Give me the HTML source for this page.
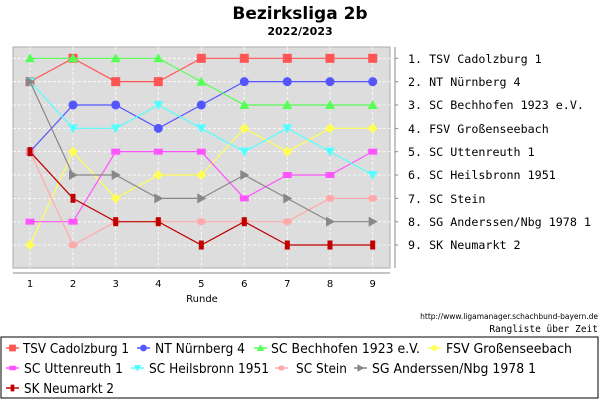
<!DOCTYPE html>
<html><head><meta charset="utf-8"><style>body{margin:0;background:#fff}svg{display:block}</style></head><body>
<svg width="600" height="400" xmlns="http://www.w3.org/2000/svg" font-family="'DejaVu Sans', sans-serif">
<text x="300" y="19" text-anchor="middle" font-size="17" font-weight="bold">Bezirksliga 2b</text>
<text x="300" y="35" text-anchor="middle" font-size="11" font-weight="bold">2022/2023</text>
<rect x="13" y="47" width="377" height="221" fill="#dddddd" stroke="#aaa"/>
<g stroke="#fff" stroke-dasharray="3,2" stroke-width="0.8">
<line x1="30" y1="47" x2="30" y2="268"/><line x1="73" y1="47" x2="73" y2="268"/><line x1="115.7" y1="47" x2="115.7" y2="268"/><line x1="158.3" y1="47" x2="158.3" y2="268"/><line x1="201.3" y1="47" x2="201.3" y2="268"/><line x1="244.3" y1="47" x2="244.3" y2="268"/><line x1="287.3" y1="47" x2="287.3" y2="268"/><line x1="330" y1="47" x2="330" y2="268"/><line x1="372.7" y1="47" x2="372.7" y2="268"/>
<line x1="13" y1="58.3" x2="390" y2="58.3"/><line x1="13" y1="81.7" x2="390" y2="81.7"/><line x1="13" y1="105" x2="390" y2="105"/><line x1="13" y1="128.4" x2="390" y2="128.4"/><line x1="13" y1="151.7" x2="390" y2="151.7"/><line x1="13" y1="175" x2="390" y2="175"/><line x1="13" y1="198.4" x2="390" y2="198.4"/><line x1="13" y1="221.8" x2="390" y2="221.8"/><line x1="13" y1="245" x2="390" y2="245"/>
</g>
<line x1="13" y1="273" x2="390" y2="273" stroke="#888"/>
<line x1="395" y1="47" x2="395" y2="268" stroke="#888"/>
<g stroke="#888"><line x1="395" y1="58.3" x2="398" y2="58.3"/><line x1="395" y1="81.7" x2="398" y2="81.7"/><line x1="395" y1="105" x2="398" y2="105"/><line x1="395" y1="128.4" x2="398" y2="128.4"/><line x1="395" y1="151.7" x2="398" y2="151.7"/><line x1="395" y1="175" x2="398" y2="175"/><line x1="395" y1="198.4" x2="398" y2="198.4"/><line x1="395" y1="221.8" x2="398" y2="221.8"/><line x1="395" y1="245" x2="398" y2="245"/></g>
<g font-size="10" text-anchor="middle"><text x="30" y="287">1</text><text x="73" y="287">2</text><text x="115.7" y="287">3</text><text x="158.3" y="287">4</text><text x="201.3" y="287">5</text><text x="244.3" y="287">6</text><text x="287.3" y="287">7</text><text x="330" y="287">8</text><text x="372.7" y="287">9</text>
<text x="202" y="302">Runde</text></g>
<g font-family="'DejaVu Sans Mono', monospace" font-size="11.7">
<text x="408" y="63">1. TSV Cadolzburg 1</text><text x="408" y="86">2. NT Nürnberg 4</text><text x="408" y="109">3. SC Bechhofen 1923 e.V.</text><text x="408" y="133">4. FSV Großenseebach</text><text x="408" y="156">5. SC Uttenreuth 1</text><text x="408" y="179">6. SC Heilsbronn 1951</text><text x="408" y="203">7. SC Stein</text><text x="408" y="226">8. SG Anderssen/Nbg 1978 1</text><text x="408" y="249">9. SK Neumarkt 2</text>
</g>
<text x="598" y="319" text-anchor="end" font-size="7.5">http://www.ligamanager.schachbund-bayern.de</text>
<text x="598" y="332" text-anchor="end" font-size="9.5" font-family="'DejaVu Sans Mono', monospace">Rangliste über Zeit</text>
<g id="plot" fill="none" stroke-width="1.2"></g>
<rect x="1" y="337" width="597" height="61" fill="none" stroke="#000"/>
<g id="leg" font-size="13"></g>
</svg>
<script>
const X=[30,73,115.7,158.3,201.3,244.3,287.3,330,372.7];
const Y=r=>58.3+(r-1)*23.34;
const S=[
["TSV Cadolzburg 1","#ff5555","sq",[2,1,2,2,1,1,1,1,1]],
["NT Nürnberg 4","#5555ff","ci",[5,3,3,4,3,2,2,2,2]],
["SC Bechhofen 1923 e.V.","#55ff55","tu",[1,1,1,1,2,3,3,3,3]],
["FSV Großenseebach","#ffff55","di",[9,5,7,6,6,4,5,4,4]],
["SC Uttenreuth 1","#ff55ff","rw",[8,8,5,5,5,7,6,6,5]],
["SC Heilsbronn 1951","#55ffff","td",[2,4,4,3,4,5,4,5,6]],
["SC Stein","#ffaaaa","el",[5,9,8,8,8,8,8,7,7]],
["SG Anderssen/Nbg 1978 1","#888888","tr",[2,6,6,7,7,6,7,8,8]],
["SK Neumarkt 2","#c00000","rt",[5,7,8,8,9,8,9,9,9]]];
const ns="http://www.w3.org/2000/svg";
function el(t,a,p){const e=document.createElementNS(ns,t);for(const k in a)e.setAttribute(k,a[k]);p.appendChild(e);return e;}
function mk(s,x,y,c,p,k){k=k||1;
 if(s=="sq")el("rect",{x:x-4.5*k,y:y-4.5*k,width:9*k,height:9*k,fill:c},p);
 else if(s=="ci")el("circle",{cx:x,cy:y,r:4.5*k,fill:c},p);
 else if(s=="tu")el("polygon",{points:`${x},${y-5*k} ${x+5*k},${y+4*k} ${x-5*k},${y+4*k}`,fill:c},p);
 else if(s=="td")el("polygon",{points:`${x},${y+5*k} ${x+5*k},${y-4*k} ${x-5*k},${y-4*k}`,fill:c},p);
 else if(s=="tr")el("polygon",{points:`${x+5*k},${y} ${x-4*k},${y-5*k} ${x-4*k},${y+5*k}`,fill:c},p);
 else if(s=="di")el("polygon",{points:`${x},${y-5*k} ${x+5*k},${y} ${x},${y+5*k} ${x-5*k},${y}`,fill:c},p);
 else if(s=="rw")el("rect",{x:x-4.5*k,y:y-3*k,width:9*k,height:6*k,fill:c},p);
 else if(s=="el")el("ellipse",{cx:x,cy:y,rx:4.5*k,ry:3.5*k,fill:c},p);
 else if(s=="rt")el("rect",{x:x-2.5*k,y:y-4.5*k,width:5*k,height:9*k,fill:c},p);}
const P=document.getElementById("plot");
for(const [n,c,s,d] of S){el("polyline",{points:d.map((r,i)=>X[i]+","+Y(r)).join(" "),stroke:c},P);d.forEach((r,i)=>mk(s,X[i],Y(r),c,P));}
const L=document.getElementById("leg");
const pos=[[6,353,23,106],[137,353,155,90],[254,353,271,149],[428,353,446,126],[6,373,24,99],[131,373,149,120],[275,373,296,51],[354,373,372,164],[6,393,24,90]];
S.forEach(([n,c,s],i)=>{const [x,y,tx,tw]=pos[i];el("line",{x1:x,y1:y-5,x2:x+13,y2:y-5,stroke:c,"stroke-width":1.5},L);mk(s,x+6.5,y-5,c,L,0.75);const t=el("text",{x:tx,y:y,textLength:tw,lengthAdjust:"spacingAndGlyphs"},L);t.textContent=n;});
</script>
</body></html>
